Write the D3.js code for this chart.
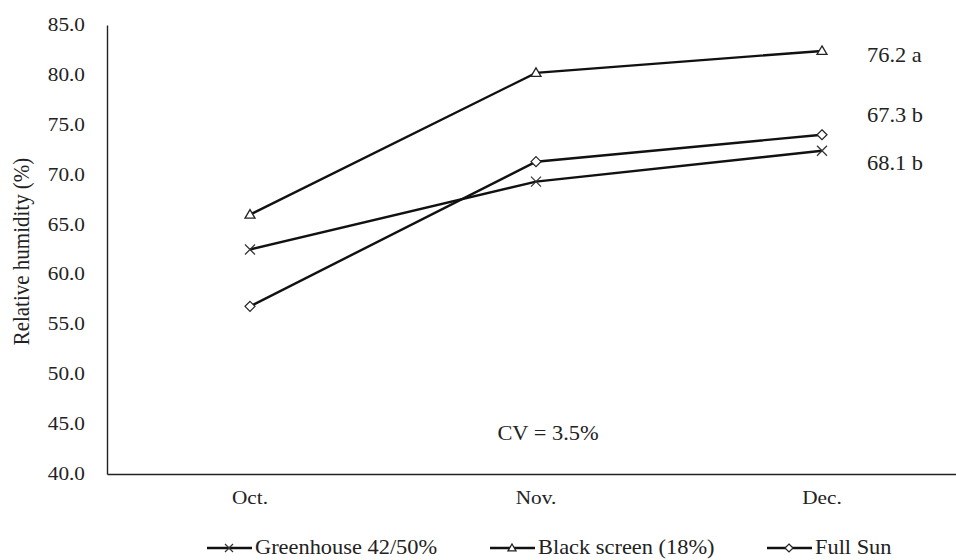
<!DOCTYPE html>
<html>
<head>
<meta charset="utf-8">
<script src="https://cdn.jsdelivr.net/npm/d3@7"></script>
<style>
  body { margin: 0; background: #fff; }
</style>
</head>
<body>
<svg id="chart" width="956" height="560"></svg>
<script>
// data
var months = ["Oct.", "Nov.", "Dec."];
var greenhouse = [62.5, 69.3, 72.4];
var blackScreen = [66.0, 80.2, 82.4];
var fullSun = [56.8, 71.3, 74.0];
var yTicks = [40, 45, 50, 55, 60, 65, 70, 75, 80, 85];
var endLabels = ["76.2 a", "67.3 b", "68.1 b"];
var seriesNames = ["Greenhouse 42/50%", "Black screen (18%)", "Full Sun"];

var series = [
  { name: seriesNames[0], values: greenhouse, marker: "cross" },
  { name: seriesNames[1], values: blackScreen, marker: "triangle" },
  { name: seriesNames[2], values: fullSun, marker: "diamond" }
];

var serif = "'Liberation Serif'";
var svg = d3.select("#chart");
var plotLeft = 107, plotRight = 965, plotTop = 25, plotBottom = 474;
var stretch = 1.12; // the original picture is a little wider than tall

var x = d3.scaleBand().domain(months).range([plotLeft, plotRight]);
var y = d3.scaleLinear().domain([40, 85]).range([plotBottom, plotTop]);
var cx = function(m) { return x(m) + x.bandwidth() / 2; };

// text drawn with the same horizontal stretch as the original
function label(px, py, str, size, anchor) {
  return svg.append("text")
    .attr("transform", "translate(" + px + "," + py + ") scale(" + stretch + ",1)")
    .attr("text-anchor", anchor || "start")
    .attr("fill", "#222")
    .style("font-family", serif)
    .style("font-size", size + "px")
    .text(str);
}

// axes
var yAxis = svg.append("g")
  .attr("transform", "translate(" + plotLeft + ",0)")
  .call(d3.axisLeft(y).tickValues(yTicks).tickSize(0).tickPadding(0).tickFormat(d3.format(".1f")));
yAxis.select(".domain").attr("stroke", "#222").attr("stroke-width", 1.4);
yAxis.selectAll("text").remove();
yTicks.forEach(function(t) {
  label(plotLeft - 22, y(t) + 6, d3.format(".1f")(t), 19, "end");
});

var xAxis = svg.append("g")
  .attr("transform", "translate(0," + plotBottom + ")")
  .call(d3.axisBottom(x).tickSize(0));
xAxis.select(".domain").attr("stroke", "#222").attr("stroke-width", 1.4);
xAxis.selectAll("text").remove();
months.forEach(function(m) {
  label(cx(m), plotBottom + 30, m, 19, "middle");
});

svg.append("text")
  .attr("transform", "translate(29," + ((plotTop + plotBottom) / 2 + 2) + ") rotate(-90) scale(1," + stretch + ")")
  .attr("text-anchor", "middle")
  .attr("fill", "#222")
  .style("font-family", serif)
  .style("font-size", "21px")
  .text("Relative humidity  (%)");

// markers
function drawMarker(g, type, px, py, s) {
  if (type === "cross") {
    g.append("path")
      .attr("d", "M" + (px - s) + "," + (py - s) + "L" + (px + s) + "," + (py + s) +
                 "M" + (px - s) + "," + (py + s) + "L" + (px + s) + "," + (py - s))
      .attr("stroke", "#333").attr("stroke-width", 1.2).attr("fill", "none");
  } else if (type === "triangle") {
    g.append("path")
      .attr("d", "M" + px + "," + (py - s) + "L" + (px + s) + "," + (py + s * 0.7) + "L" + (px - s) + "," + (py + s * 0.7) + "Z")
      .attr("stroke", "#222").attr("stroke-width", 1.3).attr("fill", "#fff");
  } else {
    g.append("path")
      .attr("d", "M" + px + "," + (py - s) + "L" + (px + s) + "," + py + "L" + px + "," + (py + s) + "L" + (px - s) + "," + py + "Z")
      .attr("stroke", "#222").attr("stroke-width", 1.2).attr("fill", "#fff");
  }
}

var line = d3.line()
  .x(function(d, i) { return cx(months[i]); })
  .y(function(d) { return y(d); });

series.forEach(function(s) {
  var g = svg.append("g");
  g.append("path")
    .datum(s.values)
    .attr("d", line)
    .attr("fill", "none")
    .attr("stroke", "#111")
    .attr("stroke-width", 2.4);
  s.values.forEach(function(v, i) {
    drawMarker(g, s.marker, cx(months[i]), y(v), 5);
  });
});

// end labels
var labelY = [55, 115, 163];
endLabels.forEach(function(t, i) {
  label(867, labelY[i] + 7, t, 20);
});

label(548, 440, "CV = 3.5%", 20, "middle");

// legend
var legendX = [207, 490, 767];
series.forEach(function(s, i) {
  var g = svg.append("g");
  var ly = 548;
  g.append("line")
    .attr("x1", legendX[i]).attr("x2", legendX[i] + 45)
    .attr("y1", ly).attr("y2", ly)
    .attr("stroke", "#111").attr("stroke-width", 2.4);
  drawMarker(g, s.marker, legendX[i] + 22, ly, 4);
  label(legendX[i] + 48, ly + 6, s.name, 20);
});
</script>
</body>
</html>
